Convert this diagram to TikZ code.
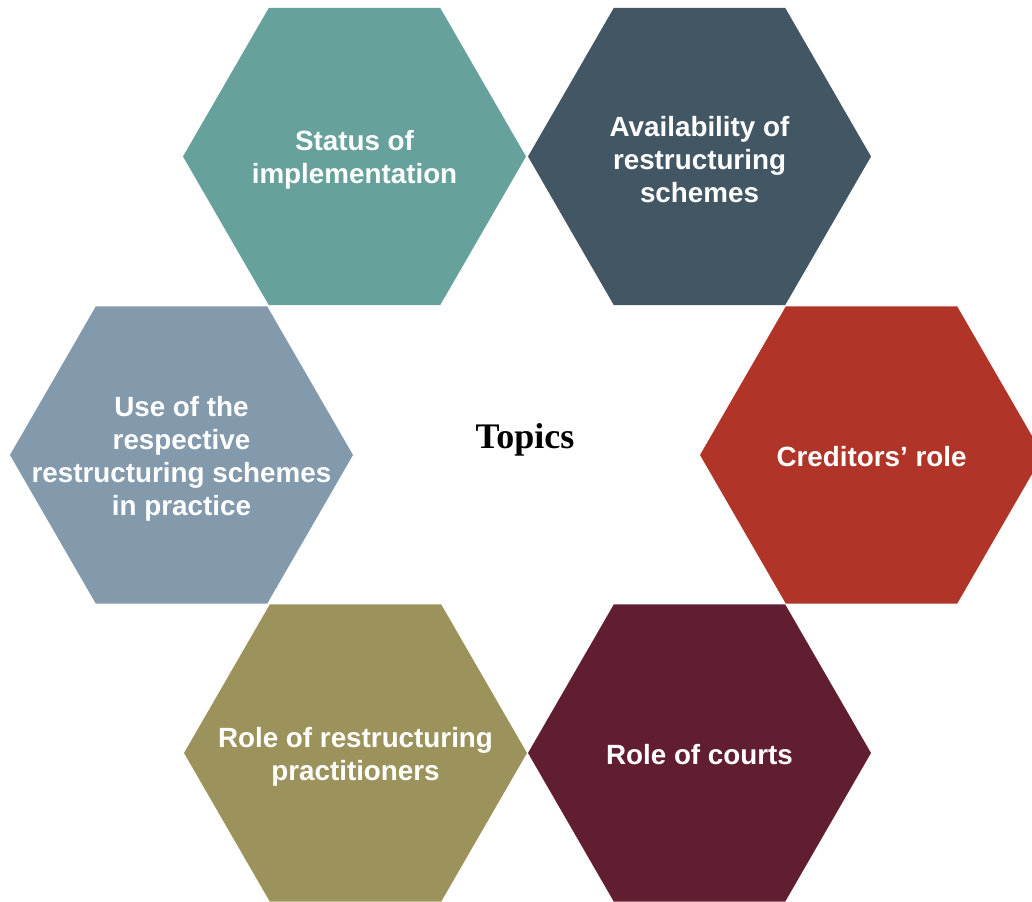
\documentclass[tikz,border=0pt]{standalone}
\usepackage{fontspec}
\usetikzlibrary{shapes.geometric}
\newfontfamily\hexfont{Liberation Sans}
\newfontfamily\topfont{Liberation Serif}
\definecolor{cteal}{HTML}{66A19B}
\definecolor{cslate}{HTML}{435664}
\definecolor{cblue}{HTML}{8399AC}
\definecolor{cred}{HTML}{B03427}
\definecolor{colive}{HTML}{9C935C}
\definecolor{cwine}{HTML}{621E31}
\tikzset{
  hex/.style={regular polygon, regular polygon sides=6, minimum size=343pt, inner sep=0pt, outer sep=0pt, draw=none},
  lab/.style={text=white, align=center, font=\hexfont\bfseries\fontsize{27.8}{33}\selectfont, inner sep=0pt, yshift=-3.5pt}
}
\begin{document}
\begin{tikzpicture}[x=1pt,y=1pt]
\useasboundingbox (0,0) rectangle (1032,-901);
\node[hex, fill=cteal]  (h1) at (354.5,-156.5) {};
\node[hex, fill=cslate] (h2) at (699.5,-156.5) {};
\node[hex, fill=cblue]  (h3) at (181.5,-455) {};
\node[hex, fill=cred]   (h4) at (871.5,-455) {};
\node[hex, fill=colive] (h5) at (355.5,-753) {};
\node[hex, fill=cwine]  (h6) at (699.5,-753) {};
\node[lab] (t1) at (h1) {Status of\\implementation};
\node[lab] (t2) at (h2) {Availability of\\restructuring\\schemes};
\node[lab] (t3) at (h3) {Use of the\\respective\\restructuring schemes\\in practice};
\node[lab, yshift=1.5pt] (t4) at (h4) {Creditors’ role};
\node[lab, yshift=1.5pt] (t6) at (h6) {Role of courts};
\node[lab] (t5) at (h5) {Role of restructuring\\practitioners};
\node[font=\topfont\bfseries\fontsize{36}{40}\selectfont, inner sep=0pt] (topics) at (525,-440) {Topics};
\end{tikzpicture}
\end{document}
